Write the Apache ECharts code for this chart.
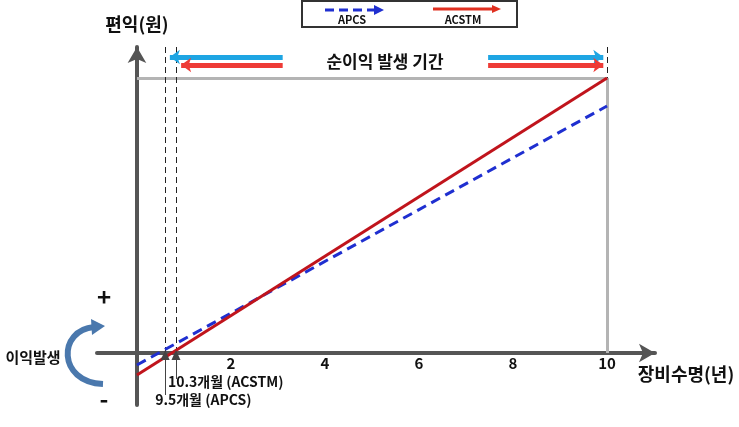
<!DOCTYPE html>
<html>
<head>
<meta charset="utf-8">
<script src="https://cdn.jsdelivr.net/npm/echarts@6/dist/echarts.min.js"></script>
<style>
html, body { margin: 0; background: #fff; }
#chart { width: 739px; height: 427px; }
</style>
</head>
<body>
<div id="chart"></div>
<script>
// values (years on x, arbitrary benefit units on y)
const years = [0, 10]
const acstm = [-2.2, 27.5]
const apcs = [-1.2, 24.7]
const xTicks = [2, 4, 6, 8, 10]
const breakEvenX = [0.6, 0.83]
const breakEvenLabels = ['9.5개월 (APCS)', '10.3개월 (ACSTM)']
const leaderEnd = [-4.2, -2.6]
const periodY = [29.6, 28.8]
const periodLeft = [[3.1, 0.7], [3.1, 0.94]]
const periodRight = [[7.47, 9.92], [7.47, 9.92]]
const periodColors = ['#1ea5e3', '#ee3b36']

const FONT = '"Noto Sans CJK KR", "Noto Sans", sans-serif'
const chart = echarts.init(document.getElementById('chart'))

const pairs = (xs, ys) => xs.map((x, i) => [x, ys[i]])

const arrowLines = []
periodY.forEach((y, i) => {
  [periodLeft[i], periodRight[i]].forEach(seg => {
    arrowLines.push([
      { coord: [seg[0], y], symbol: 'none', lineStyle: { color: periodColors[i], width: 5, type: 'solid' } },
      { coord: [seg[1], y], symbol: 'arrow', symbolSize: [11, 10] }
    ])
  })
})

const grayLines = [
  [{ coord: [0, acstm[1]] }, { coord: [10, acstm[1]] }],
  [{ coord: [10, acstm[1]] }, { coord: [10, 0] }]
]

chart.setOption({
  animation: false,
  grid: { left: 97, right: 84, top: 47, bottom: 22 },
  xAxis: {
    type: 'value',
    min: -0.85,
    max: 11.02,
    offset: -52,
    axisLine: {
      onZero: false,
      symbol: ['none', 'arrow'],
      symbolSize: [14, 16],
      lineStyle: { color: '#555', width: 4 }
    },
    axisTick: { show: false },
    splitLine: { show: false },
    axisLabel: {
      customValues: xTicks,
      color: '#111',
      fontWeight: 'bold',
      fontSize: 15,
      fontFamily: FONT,
      margin: 3
    }
  },
  yAxis: {
    type: 'value',
    min: -5.2,
    max: 30.6,
    name: '편익(원)',
    nameLocation: 'end',
    nameGap: 14,
    nameTextStyle: { color: '#111', fontWeight: 'bold', fontSize: 18, fontFamily: FONT, align: 'center' },
    axisLine: {
      onZero: true,
      symbol: ['none', 'arrow'],
      symbolSize: [14, 16],
      lineStyle: { color: '#555', width: 4 }
    },
    axisTick: { show: false },
    axisLabel: { show: false },
    splitLine: { show: false }
  },
  series: [
    {
      name: 'gray',
      type: 'line',
      data: [],
      markLine: {
        silent: true,
        symbol: ['none', 'none'],
        label: { show: false },
        lineStyle: { color: '#b4b4b4', width: 3, type: 'solid' },
        data: grayLines
      },
      z: 1
    },
    {
      name: 'guides',
      type: 'line',
      data: [],
      markLine: {
        silent: true,
        symbol: ['none', 'none'],
        label: { show: false },
        lineStyle: { color: '#222', width: 1, type: [6, 4] },
        data: [
          [{ coord: [breakEvenX[0], 30.6] }, { coord: [breakEvenX[0], 0] }],
          [{ coord: [breakEvenX[1], 30.6] }, { coord: [breakEvenX[1], 0] }],
          [{ coord: [10, 30.6] }, { coord: [10, acstm[1]] }],
          [{ coord: [breakEvenX[0], -0.4], lineStyle: { type: 'solid', color: '#444' } }, { coord: [breakEvenX[0], leaderEnd[0]] }],
          [{ coord: [breakEvenX[1], -0.4], lineStyle: { type: 'solid', color: '#444' } }, { coord: [breakEvenX[1], leaderEnd[1]] }]
        ]
      },
      z: 2
    },
    {
      name: 'period',
      type: 'line',
      data: [],
      markLine: {
        silent: true,
        label: { show: false },
        data: arrowLines
      },
      z: 3
    },
    {
      name: 'APCS',
      type: 'line',
      data: pairs(years, apcs),
      showSymbol: false,
      lineStyle: { color: '#1f2fd0', width: 3, type: [10, 6] },
      z: 5
    },
    {
      name: 'ACSTM',
      type: 'line',
      data: pairs(years, acstm),
      showSymbol: false,
      lineStyle: { color: '#c0141c', width: 3 },
      z: 6
    },
    {
      name: 'breakEven',
      type: 'scatter',
      symbol: 'triangle',
      symbolSize: [9, 10],
      itemStyle: { color: '#444', opacity: 1 },
      label: {
        show: true,
        formatter: p => breakEvenLabels[p.dataIndex],
        align: 'left',
        verticalAlign: 'middle',
        color: '#111',
        fontWeight: 'bold',
        fontSize: 14,
        fontFamily: FONT
      },
      data: breakEvenX.map((x, i) => ({
        value: [x, -0.2],
        label: { position: i === 0 ? [-5.5, 50] : [-3.5, 32] }
      })),
      z: 7
    }
  ],
  graphic: [
    { type: 'rect', shape: { x: 302, y: 1, width: 215, height: 26 }, style: { fill: '#fff', stroke: '#333', lineWidth: 2 } },
    { type: 'line', shape: { x1: 325, y1: 10, x2: 375, y2: 10 }, style: { stroke: '#1f2fd0', lineWidth: 3, lineDash: [9, 5] } },
    { type: 'polygon', shape: { points: [[374, 5], [384, 10], [374, 15]] }, style: { fill: '#1f2fd0' } },
    { type: 'text', x: 352, y: 20, style: { text: 'APCS', fill: '#111', font: 'bold 11px ' + FONT, align: 'center', verticalAlign: 'middle' } },
    { type: 'line', shape: { x1: 433, y1: 9, x2: 493, y2: 9 }, style: { stroke: '#e03020', lineWidth: 3 } },
    { type: 'polygon', shape: { points: [[492, 5], [501, 9], [492, 13]] }, style: { fill: '#e03020' } },
    { type: 'text', x: 463, y: 20, style: { text: 'ACSTM', fill: '#111', font: 'bold 11px ' + FONT, align: 'center', verticalAlign: 'middle' } },
    { type: 'text', x: 385, y: 62, style: { text: '순이익 발생 기간', fill: '#111', font: 'bold 17px ' + FONT, align: 'center', verticalAlign: 'middle' } },
    { type: 'text', x: 686, y: 374, style: { text: '장비수명(년)', fill: '#111', font: 'bold 18px ' + FONT, align: 'center', verticalAlign: 'middle' } },
    { type: 'text', x: 104, y: 297, style: { text: '+', fill: '#111', font: 'bold 24px ' + FONT, align: 'center', verticalAlign: 'middle' } },
    { type: 'text', x: 104, y: 399, style: { text: '-', fill: '#111', font: 'bold 24px ' + FONT, align: 'center', verticalAlign: 'middle' } },
    { type: 'text', x: 33, y: 357, style: { text: '이익발생', fill: '#111', font: 'bold 15px ' + FONT, align: 'center', verticalAlign: 'middle' } },
    {
      type: 'bezierCurve',
      shape: { x1: 103, y1: 384, cpx1: 57, cpy1: 382, cpx2: 58, cpy2: 330, x2: 94, y2: 327 },
      style: { stroke: '#4a78ad', lineWidth: 6, fill: null }
    },
    { type: 'polygon', shape: { points: [[91, 319], [105, 326], [92, 335]] }, style: { fill: '#4a78ad' } }
  ]
})
</script>
</body>
</html>
